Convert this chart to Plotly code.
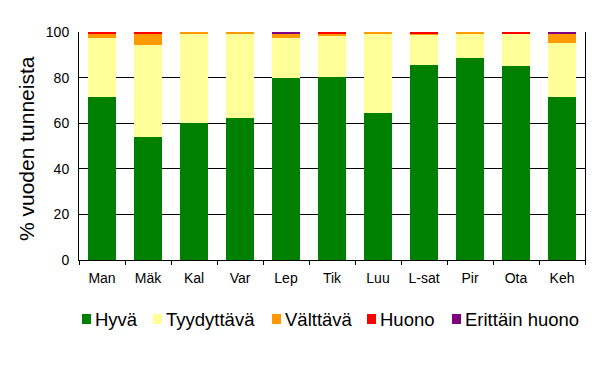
import plotly.graph_objects as go

categories = ["Man", "Mäk", "Kal", "Var", "Lep", "Tik", "Luu", "L-sat", "Pir", "Ota", "Keh"]
hyva = [71.5, 54.0, 60.0, 62.3, 80.0, 80.3, 64.5, 85.7, 88.7, 85.2, 71.5]
tyydyttava = [25.9, 40.3, 39.5, 37.2, 17.4, 17.9, 35.0, 13.0, 10.8, 14.1, 23.8]
valttava = [2.1, 4.9, 0.5, 0.5, 2.1, 1.3, 0.5, 0.8, 0.5, 0.1, 4.1]
huono = [0.5, 0.8, 0.0, 0.0, 0.0, 0.5, 0.0, 0.5, 0.0, 0.6, 0.0]
erittain_huono = [0.0, 0.0, 0.0, 0.0, 0.5, 0.0, 0.0, 0.0, 0.0, 0.0, 0.6]

series = [
    ("Hyvä", hyva, "#008000"),
    ("Tyydyttävä", tyydyttava, "#FFFF99"),
    ("Välttävä", valttava, "#FF9900"),
    ("Huono", huono, "#FF0000"),
    ("Erittäin huono", erittain_huono, "#800080"),
]

fig = go.Figure()
for name, vals, col in series:
    fig.add_trace(go.Bar(x=categories, y=vals, name=name, showlegend=False,
                         marker=dict(color=col, line=dict(width=0))))

font = "Liberation Sans, Arial, sans-serif"
# page body has an 8px margin; figure sized to fit the 598x365 window
W, H = 590, 357
ML, MR, MT, MB = 71, 13, 24, 105
fig.update_layout(
    barmode="stack",
    bargap=0.385,
    width=W, height=H,
    margin=dict(l=ML, r=MR, t=MT, b=MB, autoexpand=False),
    plot_bgcolor="white", paper_bgcolor="white",
    font=dict(family=font, color="black", size=14),
    showlegend=False,
)

# manual legend (screen pixel positions converted to paper coordinates)
leg_items = [("Hyvä", "#008000", 82), ("Tyydyttävä", "#FFFF99", 153), ("Välttävä", "#FF9900", 272),
             ("Huono", "#FF0000", 367), ("Erittäin huono", "#800080", 452)]
pw, ph = W - ML - MR, H - MT - MB
def px(xp):
    return (xp - 79) / pw
def py(yp):
    return (260 - yp) / ph
for name, col, xp in leg_items:
    fig.add_shape(type="rect", xref="paper", yref="paper", x0=px(xp), x1=px(xp + 9),
                  y0=py(324), y1=py(314), fillcolor=col, line=dict(width=0))
    fig.add_annotation(text=name, xref="paper", yref="paper", x=px(xp + 11), y=py(319),
                       xanchor="left", yanchor="middle", showarrow=False,
                       font=dict(size=18.5, color="black", family=font))

# y-axis title as rotated annotation (centred slightly below plot centre, as in reference)
fig.add_annotation(text="% vuoden tunneista", xref="paper", yref="paper", x=px(26), y=py(149),
                   xanchor="center", yanchor="middle", textangle=-90, showarrow=False,
                   font=dict(size=21, color="black", family=font))

fig.update_yaxes(range=[0, 100], tickvals=[0, 20, 40, 60, 80, 100], showgrid=True,
                 gridcolor="black", gridwidth=1, showline=True, linecolor="black", linewidth=1,
                 mirror=True, ticks="", tickfont=dict(size=14, color="black"),
                 ticklabelstandoff=6, zeroline=False)
fig.update_xaxes(showline=True, linecolor="black", linewidth=1, ticks="outside",
                 tickson="boundaries", ticklen=4, tickcolor="black",
                 ticklabelstandoff=5,
                 tickfont=dict(size=14, color="black"))

fig.write_html("out.html")
